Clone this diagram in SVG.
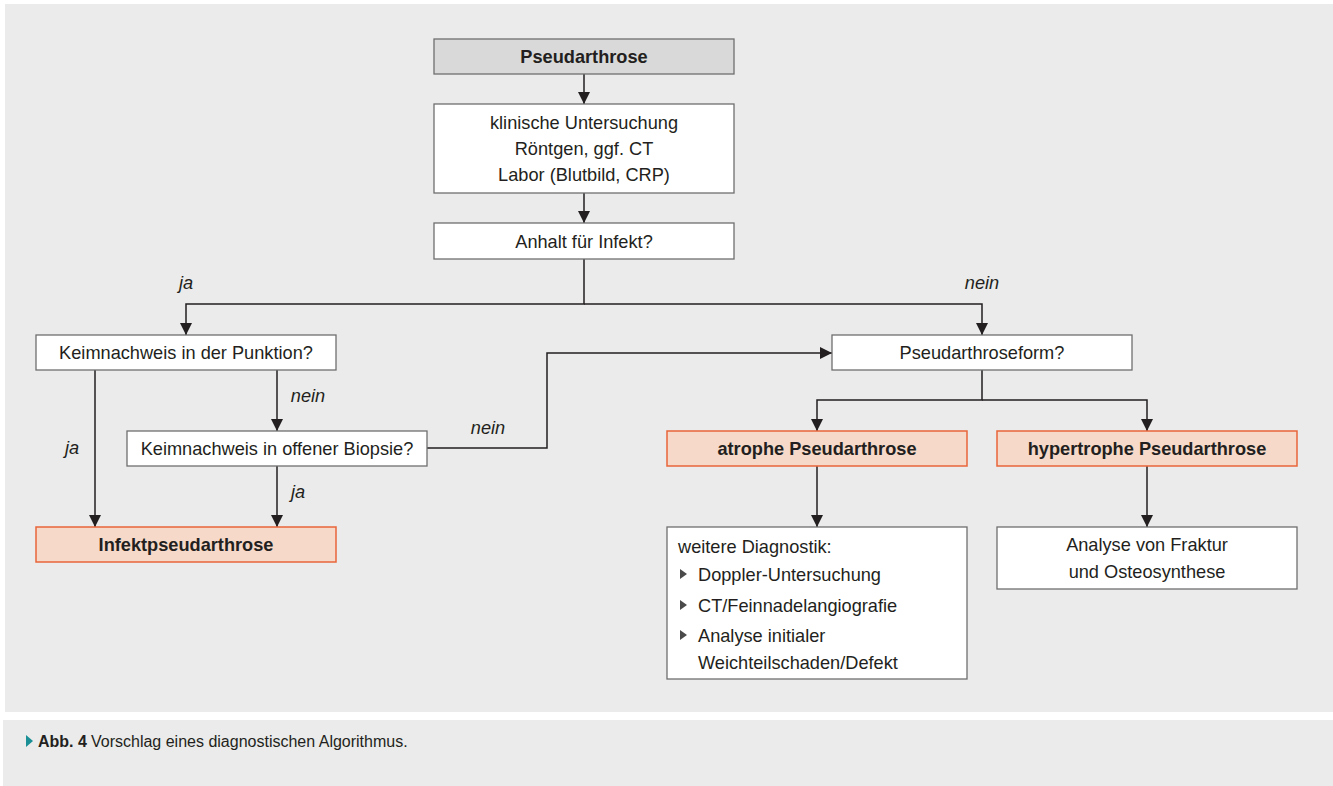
<svg xmlns="http://www.w3.org/2000/svg" width="1333" height="786" viewBox="0 0 1333 786">
<defs>
<marker id="ah" markerUnits="userSpaceOnUse" markerWidth="12" markerHeight="12" refX="12" refY="6" orient="auto">
<path d="M0,0 L12,6 L0,12 Z" fill="#231f20"/>
</marker>
<style>
text{font-family:"Liberation Sans",Arial,sans-serif;font-size:18.2px;fill:#231f20}
.c{text-anchor:middle}
.b{font-weight:bold}
.i{font-style:italic}
.box{fill:#ffffff;stroke:#6f6f6f;stroke-width:1.3}
.grey{fill:#d9d9d9;stroke:#6f6f6f;stroke-width:1.3}
.org{fill:#f6d9c8;stroke:#e8653a;stroke-width:1.5}
.ln{fill:none;stroke:#231f20;stroke-width:1.5}
.cap{font-size:16px}
</style>
</defs>
<rect x="0" y="0" width="1333" height="786" fill="#ffffff"/>
<rect x="5" y="4" width="1328" height="708" fill="#eaebea"/>
<rect x="3" y="720" width="1330" height="66" fill="#eaebea"/>

<g id="connectors">
<path class="ln" d="M584,74 V104" marker-end="url(#ah)"/>
<path class="ln" d="M584,193 V223" marker-end="url(#ah)"/>
<path class="ln" d="M584,259 V304 H186 V335" marker-end="url(#ah)"/>
<path class="ln" d="M584,304 H982 V335" marker-end="url(#ah)"/>
<path class="ln" d="M95,370 V527" marker-end="url(#ah)"/>
<path class="ln" d="M277,370 V431" marker-end="url(#ah)"/>
<path class="ln" d="M277,466 V527" marker-end="url(#ah)"/>
<path class="ln" d="M427,448 H547 V353 H832" marker-end="url(#ah)"/>
<path class="ln" d="M982,370 V400 H817 V431" marker-end="url(#ah)"/>
<path class="ln" d="M982,400 H1147 V431" marker-end="url(#ah)"/>
<path class="ln" d="M817,466 V527" marker-end="url(#ah)"/>
<path class="ln" d="M1147,466 V527" marker-end="url(#ah)"/>
<text class="i c" x="186" y="289">ja</text>
<text class="i c" x="982" y="289">nein</text>
<text class="i c" x="72" y="454">ja</text>
<text class="i c" x="308" y="402">nein</text>
<text class="i c" x="298" y="498">ja</text>
<text class="i c" x="488" y="434">nein</text>
</g>

<g id="n1"><rect class="grey" x="434" y="39" width="300" height="35"/><text class="b c" x="584" y="63">Pseudarthrose</text></g>
<g id="n2"><rect class="box" x="434" y="104" width="300" height="89"/>
<text class="c" x="584" y="128.5">klinische Untersuchung</text>
<text class="c" x="584" y="154.5">Röntgen, ggf. CT</text>
<text class="c" x="584" y="180.5">Labor (Blutbild, CRP)</text></g>
<g id="n3"><rect class="box" x="434" y="223" width="300" height="36"/><text class="c" x="584" y="247.5">Anhalt für Infekt?</text></g>
<g id="n4"><rect class="box" x="36" y="335" width="300" height="35"/><text class="c" x="186" y="359">Keimnachweis in der Punktion?</text></g>
<g id="n5"><rect class="box" x="127" y="431" width="300" height="35"/><text class="c" x="277" y="455">Keimnachweis in offener Biopsie?</text></g>
<g id="n6"><rect class="org" x="36" y="527" width="300" height="35"/><text class="b c" x="186" y="551">Infektpseudarthrose</text></g>
<g id="n7"><rect class="box" x="832" y="335" width="300" height="35"/><text class="c" x="982" y="359">Pseudarthroseform?</text></g>
<g id="n8"><rect class="org" x="667" y="431" width="300" height="35"/><text class="b c" x="817" y="455">atrophe Pseudarthrose</text></g>
<g id="n9"><rect class="org" x="997" y="431" width="300" height="35"/><text class="b c" x="1147" y="455">hypertrophe Pseudarthrose</text></g>
<g id="n10"><rect class="box" x="667" y="527" width="300" height="152"/>
<text x="678" y="552.5">weitere Diagnostik:</text>
<path d="M680,569 L687,574 L680,579 Z" fill="#4a4a4a"/>
<text x="698" y="580.5">Doppler-Untersuchung</text>
<path d="M680,600 L687,605 L680,610 Z" fill="#4a4a4a"/>
<text x="698" y="611.5">CT/Feinnadelangiografie</text>
<path d="M680,630 L687,635 L680,640 Z" fill="#4a4a4a"/>
<text x="698" y="641.5">Analyse initialer</text>
<text x="698" y="668.5">Weichteilschaden/Defekt</text></g>
<g id="n11"><rect class="box" x="997" y="527" width="300" height="62"/>
<text class="c" x="1147" y="550.5">Analyse von Fraktur</text>
<text class="c" x="1147" y="577.5">und Osteosynthese</text></g>

<g id="caption">
<path d="M26,735 L33,741 L26,747 Z" fill="#1a8f95"/>
<text x="38" y="747" class="b cap">Abb. 4</text>
<text x="91" y="747" class="cap">Vorschlag eines diagnostischen Algorithmus.</text>
</g>
</svg>
